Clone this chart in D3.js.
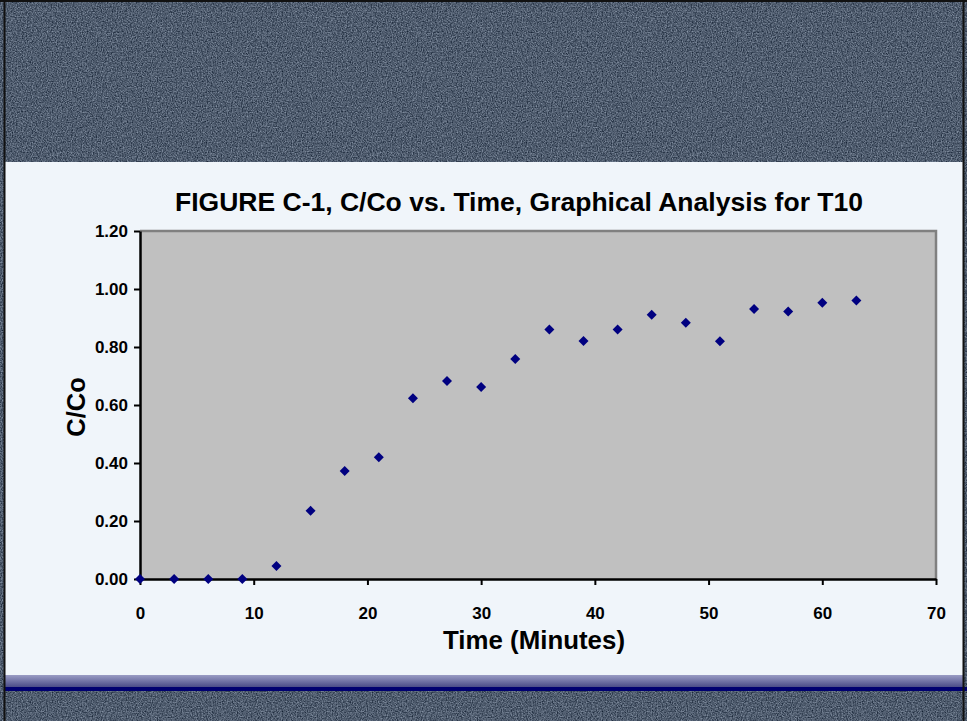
<!DOCTYPE html>
<html>
<head>
<meta charset="utf-8">
<script src="https://cdn.jsdelivr.net/npm/d3@7"></script>
<style>
  body { margin: 0; background: #4d5b6d; }
  text { font-family: "Liberation Sans", Arial, sans-serif; font-weight: bold; fill: #000; }
</style>
</head>
<body>
<div id="wrapper"></div>
<script>
// data (time in minutes, C/Co)
var times = [0, 3, 6, 9, 12, 15, 18, 21, 24, 27, 30, 33, 36, 39, 42, 45, 48, 51, 54, 57, 60, 63]
var ratios = [0.00, 0.00, 0.00, 0.00, 0.045, 0.235, 0.372, 0.42, 0.623, 0.683, 0.662, 0.759,
              0.86, 0.821, 0.86, 0.911, 0.884, 0.82, 0.931, 0.922, 0.953, 0.96]
var xTicks = [0, 10, 20, 30, 40, 50, 60, 70]
var yTicks = [0, 0.2, 0.4, 0.6, 0.8, 1.0, 1.2]

var data = times.map((t, i) => ({ t: t, r: ratios[i] }))

var W = 967, H = 721

var margin = { top: 231, right: 31, bottom: 142, left: 140 }
var width = W - margin.left - margin.right
var height = H - margin.top - margin.bottom

const svg = d3.select("#wrapper")
    .append("svg")
    .attr("width", W)
    .attr("height", H)
    .style("display", "block")

// textured slide background
var defs = svg.append("defs")
var noise = defs.append("filter").attr("id", "grain")
    .attr("x", 0).attr("y", 0).attr("width", "100%").attr("height", "100%")
    .attr("color-interpolation-filters", "sRGB")
noise.append("feTurbulence")
    .attr("type", "fractalNoise")
    .attr("baseFrequency", 0.8)
    .attr("numOctaves", 2)
    .attr("seed", 3)
noise.append("feColorMatrix")
    .attr("type", "matrix")
    .attr("values", "0.6 0 0 0 0.01  0.6 0 0 0 0.06  0.6 0 0 0 0.13  0 0 0 0 1")

var band = defs.append("linearGradient").attr("id", "band")
    .attr("x1", 0).attr("y1", 0).attr("x2", 0).attr("y2", 1)
band.append("stop").attr("offset", "0%").attr("stop-color", "#9a9cc4")
band.append("stop").attr("offset", "100%").attr("stop-color", "#4a4c88")

svg.append("rect")
    .attr("width", W).attr("height", H)
    .attr("filter", "url(#grain)")

// light panel
svg.append("rect")
    .attr("x", 5).attr("y", 162)
    .attr("width", 958).attr("height", 513)
    .attr("fill", "#f0f5fa")
svg.append("rect")
    .attr("x", 5).attr("y", 675)
    .attr("width", 958).attr("height", 12)
    .attr("fill", "url(#band)")
svg.append("rect")
    .attr("x", 5).attr("y", 687)
    .attr("width", 962).attr("height", 4)
    .attr("fill", "#000070")

// thin dark frame lines
svg.append("line").attr("x1", 0).attr("x2", W).attr("y1", 1).attr("y2", 1)
    .attr("stroke", "#111").attr("stroke-width", 2)
svg.append("line").attr("x1", 4.5).attr("x2", 4.5).attr("y1", 0).attr("y2", H)
    .attr("stroke", "#111").attr("stroke-width", 2)
svg.append("line").attr("x1", 963.5).attr("x2", 963.5).attr("y1", 0).attr("y2", H)
    .attr("stroke", "#111").attr("stroke-width", 2)

var bounds = svg.append("g")
    .attr("transform", "translate(" + margin.left + "," + margin.top + ")")

var xScale = d3.scaleLinear().domain([0, 70]).range([0, width])
var yScale = d3.scaleLinear().domain([0, 1.2]).range([height, 0])

// plot area
bounds.append("rect")
    .attr("width", width).attr("height", height)
    .attr("fill", "#c0c0c0")
bounds.append("path")
    .attr("d", "M0,0H" + width + "V" + height)
    .attr("fill", "none")
    .attr("stroke", "#808080")
    .attr("stroke-width", 2.5)

var xAxis = bounds.append("g")
    .attr("transform", "translate(0," + height + ")")
    .call(d3.axisBottom(xScale).tickValues(xTicks).tickSize(6).tickSizeOuter(0).tickPadding(22))
var yAxis = bounds.append("g")
    .call(d3.axisLeft(yScale).tickValues(yTicks).tickSize(6).tickSizeOuter(0).tickPadding(6)
        .tickFormat(d3.format(".2f")))

;[xAxis, yAxis].forEach(a => {
    a.select(".domain").attr("stroke", "#000").attr("stroke-width", 2.5)
    a.selectAll(".tick line").attr("stroke", "#000").attr("stroke-width", 2)
    a.selectAll(".tick text")
        .style("font-family", "'Liberation Sans', Arial, sans-serif")
        .style("font-weight", "bold")
        .style("font-size", "17px")
        .attr("fill", "#000")
})

// points
bounds.selectAll(".pt")
    .data(data)
    .join("path")
    .attr("class", "pt")
    .attr("d", d3.symbol().type(d3.symbolSquare).size(50))
    .attr("transform", d => "translate(" + xScale(d.t) + "," + yScale(d.r) + ") rotate(45)")
    .attr("fill", "#000080")

// titles
svg.append("text")
    .attr("x", 519).attr("y", 211)
    .attr("text-anchor", "middle")
    .style("font-size", "26px")
    .attr("textLength", 688)
    .attr("lengthAdjust", "spacingAndGlyphs")
    .text("FIGURE C-1, C/Co vs. Time, Graphical Analysis for T10")

svg.append("text")
    .attr("x", 534).attr("y", 649)
    .attr("text-anchor", "middle")
    .style("font-size", "26px")
    .attr("textLength", 182)
    .attr("lengthAdjust", "spacingAndGlyphs")
    .text("Time (Minutes)")

svg.append("text")
    .attr("transform", "translate(85,407) rotate(-90)")
    .attr("text-anchor", "middle")
    .style("font-size", "25.5px")
    .text("C/Co")
</script>
</body>
</html>
